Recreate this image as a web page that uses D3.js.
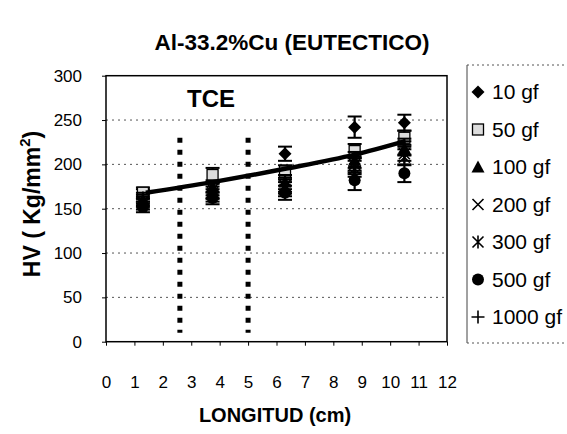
<!DOCTYPE html>
<html><head><meta charset="utf-8">
<script src="https://cdn.jsdelivr.net/npm/d3@7"></script>
<style>body{margin:0;background:#fff}svg{display:block;font-family:Arial,"Liberation Sans",sans-serif}</style>
</head><body><svg id="c" width="567" height="434"></svg>
<script>
const xPositions = [1.3, 3.75, 6.3, 8.75, 10.5];
const seriesNames = ["10 gf", "50 gf", "100 gf", "200 gf", "300 gf", "500 gf", "1000 gf"];
const s10 = [165, 170, 212, 242, 247];
const s50 = [168, 188, 192, 215, 230];
const s100 = [160, 175, 180, 205, 218];
const s200 = [158, 172, 176, 200, 212];
const s300 = [155, 168, 172, 195, 208];
const s500 = [152, 162, 168, 182, 190];
const s1000 = [162, 165, 175, 198, 220];
const e10 = [7, 8, 8, 12, 9];
const e50 = [6, 8, 7, 8, 8];
const e100 = [6, 7, 8, 9, 8];
const e200 = [6, 7, 7, 9, 8];
const e300 = [6, 7, 8, 9, 9];
const e500 = [6, 7, 8, 11, 10];
const e1000 = [6, 7, 8, 9, 9];
const trendX = [1.4, 3.75, 6.3, 8.75, 10.5];
const trendY = [168, 180, 195, 211, 226];
const tceLines = [2.6, 5.0];
const tceRange = [10, 230];
const xTicks = d3.range(0, 13);
const yTicks = [0, 50, 100, 150, 200, 250, 300];

const seriesVals = [s10, s50, s100, s200, s300, s500, s1000];
const seriesErr = [e10, e50, e100, e200, e300, e500, e1000];
const symbols = ["diamond", "square", "triangle", "x", "asterisk", "circle", "plus"];

const svg = d3.select("#c");
const L = 106, R = 447, T = 75.7, B = 341.7;
const x = d3.scaleLinear().domain([0, 12]).range([L, R]);
const y = d3.scaleLinear().domain([0, 300]).range([B, T]);

// title
svg.append("text").attr("x", 292).attr("y", 50).attr("text-anchor", "middle")
  .attr("font-size", 22.5).attr("font-weight", "bold").text("Al-33.2%Cu (EUTECTICO)");

// gridlines
svg.append("g").selectAll("line").data(yTicks.filter(v => v > 0 && v < 300)).join("line")
  .attr("x1", L).attr("x2", R).attr("y1", d => y(d)).attr("y2", d => y(d))
  .attr("stroke", "#555").attr("stroke-width", 1).attr("stroke-dasharray", "2,4");

// frame
svg.append("rect").attr("x", L).attr("y", T).attr("width", R - L).attr("height", B - T)
  .attr("fill", "none").attr("stroke", "#000").attr("stroke-width", 1.5);

// axes
const xAxis = svg.append("g").attr("transform", `translate(0,${B})`)
  .call(d3.axisBottom(x).tickValues(xTicks).tickSize(4).tickPadding(30).tickFormat(d3.format("d")));
xAxis.select(".domain").remove();
xAxis.selectAll("text").attr("font-size", 17).attr("font-family", "Arial, 'Liberation Sans', sans-serif");
const yAxis = svg.append("g").attr("transform", `translate(${L},0)`)
  .call(d3.axisLeft(y).tickValues(yTicks).tickSize(4).tickPadding(20));
yAxis.select(".domain").remove();
yAxis.selectAll("text").attr("font-size", 17).attr("font-family", "Arial, 'Liberation Sans', sans-serif");

// axis titles
svg.append("text").attr("x", 275).attr("y", 422).attr("text-anchor", "middle")
  .attr("font-size", 20).attr("font-weight", "bold").text("LONGITUD (cm)");
const yt = svg.append("text").attr("transform", "translate(40,204) rotate(-90)")
  .attr("text-anchor", "middle").attr("font-size", 23).attr("font-weight", "bold");
yt.append("tspan").text("HV ( Kg/mm");
yt.append("tspan").attr("dy", -10).attr("font-size", 15).text("2");
yt.append("tspan").attr("dy", 10).text(")");

// TCE lines
svg.append("g").selectAll("line").data(tceLines).join("line")
  .attr("x1", d => x(d)).attr("x2", d => x(d))
  .attr("y1", y(tceRange[1])).attr("y2", y(tceRange[0]))
  .attr("stroke", "#000").attr("stroke-width", 5).attr("stroke-dasharray", "5,7");
svg.append("text").attr("x", 211).attr("y", 107).attr("text-anchor", "middle")
  .attr("font-size", 24).attr("font-weight", "bold").text("TCE");

// marker drawing
function drawSymbol(g, type, cx, cy, s) {
  const h = s / 2;
  if (type === "diamond") g.append("path").attr("d", `M${cx},${cy - h - 1}L${cx + h + 1},${cy}L${cx},${cy + h + 1}L${cx - h - 1},${cy}Z`).attr("fill", "#000");
  else if (type === "square") g.append("rect").attr("x", cx - h).attr("y", cy - h).attr("width", s).attr("height", s).attr("fill", "#ddd").attr("stroke", "#000").attr("stroke-width", 1.3);
  else if (type === "triangle") g.append("path").attr("d", `M${cx},${cy - h - 1}L${cx + h + 1},${cy + h}L${cx - h - 1},${cy + h}Z`).attr("fill", "#000");
  else if (type === "x") g.append("path").attr("d", `M${cx - h},${cy - h}L${cx + h},${cy + h}M${cx - h},${cy + h}L${cx + h},${cy - h}`).attr("stroke", "#000").attr("stroke-width", 1.6);
  else if (type === "asterisk") g.append("path").attr("d", `M${cx - h},${cy - h}L${cx + h},${cy + h}M${cx - h},${cy + h}L${cx + h},${cy - h}M${cx},${cy - h - 1}L${cx},${cy + h + 1}`).attr("stroke", "#000").attr("stroke-width", 1.6);
  else if (type === "circle") g.append("circle").attr("cx", cx).attr("cy", cy).attr("r", h + 0.5).attr("fill", "#000");
  else if (type === "plus") g.append("path").attr("d", `M${cx - h - 1},${cy}L${cx + h + 1},${cy}M${cx},${cy - h - 1}L${cx},${cy + h + 1}`).attr("stroke", "#000").attr("stroke-width", 1.6);
}

// series with error bars
const gs = svg.append("g");
seriesVals.forEach((vals, si) => {
  const g = gs.append("g");
  vals.forEach((v, i) => {
    const cx = x(xPositions[i]), e = seriesErr[si][i];
    g.append("line").attr("x1", cx).attr("x2", cx).attr("y1", y(v + e)).attr("y2", y(v - e)).attr("stroke", "#000").attr("stroke-width", 2.2);
    [v + e, v - e].forEach(w => g.append("line").attr("x1", cx - 7).attr("x2", cx + 7).attr("y1", y(w)).attr("y2", y(w)).attr("stroke", "#000").attr("stroke-width", 2));
    drawSymbol(g, symbols[si], cx, y(v), 11);
  });
});

// trend line
svg.append("path").datum(trendX.map((d, i) => [d, trendY[i]]))
  .attr("d", d3.line().x(d => x(d[0])).y(d => y(d[1])).curve(d3.curveMonotoneX))
  .attr("fill", "none").attr("stroke", "#000").attr("stroke-width", 4.5);

// legend
const lg = svg.append("g");
lg.append("line").attr("x1", 467).attr("x2", 467).attr("y1", 65).attr("y2", 343).attr("stroke", "#444").attr("stroke-width", 1);
[65, 343].forEach(yy => lg.append("line").attr("x1", 467).attr("x2", 567).attr("y1", yy).attr("y2", yy).attr("stroke", "#555").attr("stroke-width", 1).attr("stroke-dasharray", "2,3"));
seriesNames.forEach((n, i) => {
  const cy = 92 + i * 37.5;
  drawSymbol(lg, symbols[i], 478, cy, 11);
  lg.append("text").attr("x", 492).attr("y", cy + 7).attr("font-size", 21).text(n);
});
</script></body></html>
